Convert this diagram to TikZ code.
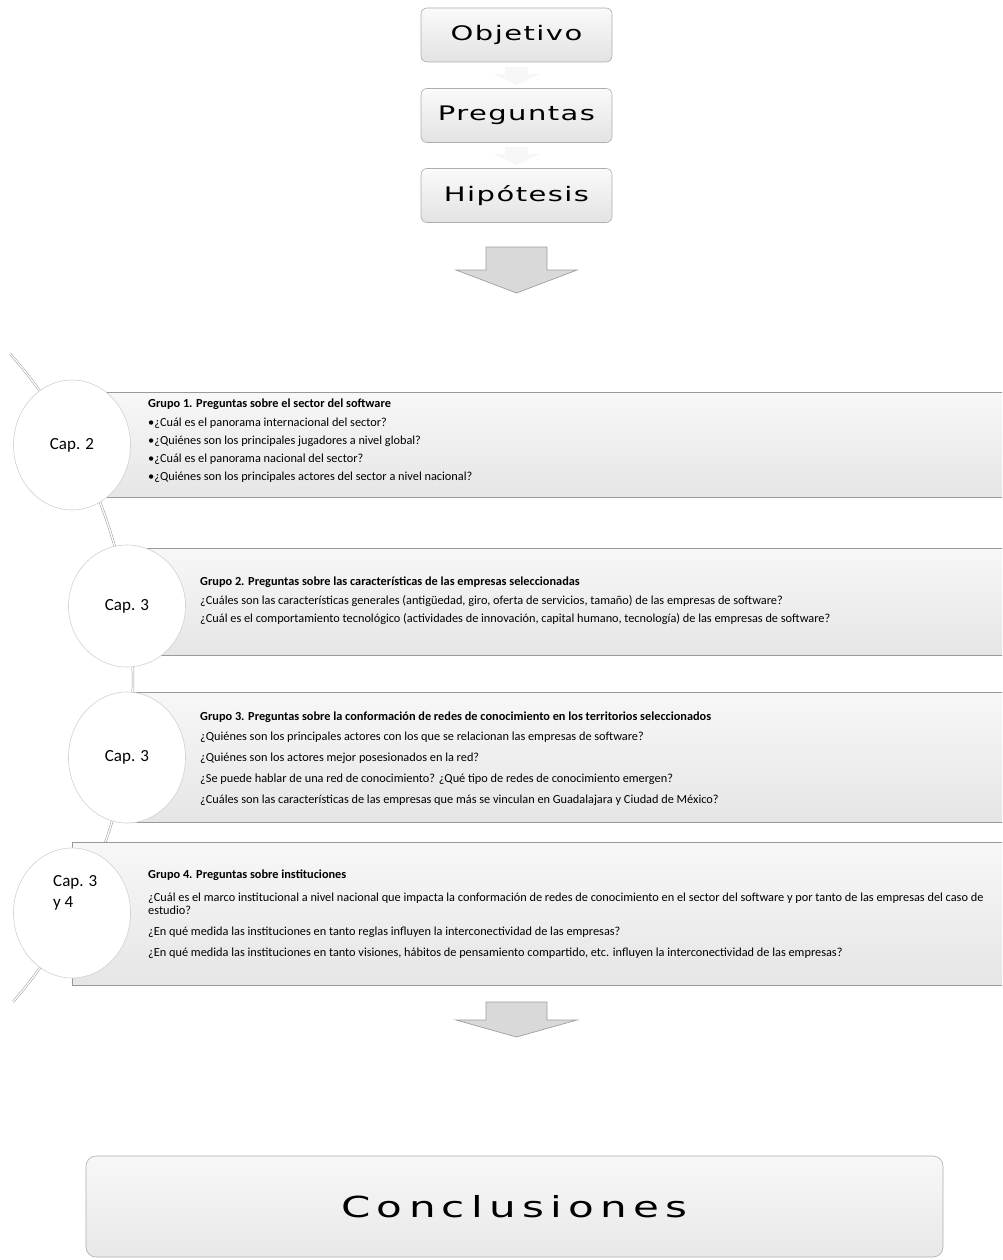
\documentclass[tikz,border=0pt]{standalone}
\usepackage{fontspec}
\setmainfont{Carlito}
\newfontfamily\headfont{DejaVu Sans}
\usetikzlibrary{shapes.geometric}
% wide heading text: horizontally widened glyphs with a little tracking
\newcommand{\widehead}[3]{\scalebox{1.45}[1]{\headfont\addfontfeature{LetterSpace=#2}\fontsize{#1}{#1}\selectfont #3}}
\begin{document}
\begin{tikzpicture}[x=1pt,y=-1pt,
  topbox/.style={draw=black!32, line width=0.6pt, rounded corners=6pt,
    top color=black!2, bottom color=black!11, minimum width=191pt, minimum height=54pt},
  faintarrow/.style={fill=black!3, draw=none},
  bigarrow/.style={draw=black!38, line width=0.7pt, fill=black!15},
  rowbox/.style={draw=black!40, line width=0.8pt, top color=black!3, bottom color=black!10,
    anchor=north west, inner sep=0pt},
  capcircle/.style={ellipse, draw=black!18, line width=0.6pt, fill=white, inner sep=0pt,
    font=\fontsize{17}{21}\selectfont},
  arcline/.style={draw=black!40, line width=0.5pt, double=white, double distance=1.3pt},
  txt/.style={anchor=base west, inner sep=0pt, font=\fontsize{12.3}{14}\selectfont}]
\useasboundingbox (0,0) rectangle (1002,1260);

% --- top sequence ---
\node[topbox] (obj) at (516.5,35) {\widehead{20}{5}{Objetivo}};
\node[topbox] (preg) at (516.5,115.5) {\widehead{20}{5}{Preguntas}};
\node[topbox] (hip) at (516.5,195.5) {\widehead{20}{5}{Hipótesis}};

\fill[faintarrow] (505,67) -- (528,67) -- (528,74) -- (540,74) -- (516.5,85) -- (493,74) -- (505,74) -- cycle;
\fill[faintarrow] (505,147) -- (528,147) -- (528,154) -- (540,154) -- (516.5,165) -- (493,154) -- (505,154) -- cycle;

\draw[bigarrow] (486,247) -- (547,247) -- (547,270) -- (577,270) -- (516.5,293) -- (456,270) -- (486,270) -- cycle;

% --- arc through the chapter circles ---
\draw[arcline] plot[domain=-41.3:40.8, samples=90, smooth]
  ({-360.4+493.4*cos(\x)},{679.5+493.4*sin(\x)});

% --- question groups ---
\begin{scope}
\clip (0,0) rectangle (1002,1260);
\node[rowbox, minimum width=940pt, minimum height=105pt] (g1) at (72,392) {};
\node[rowbox, minimum width=885pt, minimum height=107pt] (g2) at (127,548) {};
\node[rowbox, minimum width=885pt, minimum height=130pt] (g3) at (127,692) {};
\node[rowbox, minimum width=940pt, minimum height=143pt] (g4) at (72,842) {};
\end{scope}

\node[capcircle, minimum width=117pt, minimum height=130pt] (c1) at (72,445) {Cap. 2};
\node[capcircle, minimum width=117pt, minimum height=122pt] (c2) at (127,606) {Cap. 3};
\node[capcircle, minimum width=117pt, minimum height=131pt] (c3) at (127,757.5) {Cap. 3};
\node[capcircle, minimum width=117pt, minimum height=130pt] (c4) at (72,913) {};
\node[anchor=base west, inner sep=0pt, font=\fontsize{17}{21}\selectfont] (c4a) at (53,886) {Cap. 3};
\node[anchor=base west, inner sep=0pt, font=\fontsize{17}{21}\selectfont] (c4b) at (53,907) {y 4};

% group 1
\node[txt] (t10) at (148,407) {\textbf{Grupo 1. Preguntas sobre el sector del software}};
\node[txt] (t11) at (148,426) {•¿Cuál es el panorama internacional del sector?};
\node[txt] (t12) at (148,444) {•¿Quiénes son los principales jugadores a nivel global?};
\node[txt] (t13) at (148,462) {•¿Cuál es el panorama nacional del sector?};
\node[txt] (t14) at (148,480) {•¿Quiénes son los principales actores del sector a nivel nacional?};

% group 2
\node[txt] (t20) at (200,585) {\textbf{Grupo 2. Preguntas sobre las características de las empresas seleccionadas}};
\node[txt] (t21) at (200,604) {¿Cuáles son las características generales (antigüedad, giro, oferta de servicios, tamaño) de las empresas de software?};
\node[txt] (t22) at (200,622) {¿Cuál es el comportamiento tecnológico (actividades de innovación, capital humano, tecnología) de las empresas de software?};

% group 3
\node[txt] (t30) at (200,720) {\textbf{Grupo 3. Preguntas sobre la conformación de redes de conocimiento en los territorios seleccionados}};
\node[txt] (t31) at (200,740) {¿Quiénes son los principales actores con los que se relacionan las empresas de software?};
\node[txt] (t32) at (200,761) {¿Quiénes son los actores mejor posesionados en la red?};
\node[txt] (t33) at (200,782) {¿Se puede hablar de una red de conocimiento? ¿Qué tipo de redes de conocimiento emergen?};
\node[txt] (t34) at (200,803) {¿Cuáles son las características de las empresas que más se vinculan en Guadalajara y Ciudad de México?};

% group 4
\node[txt] (t40) at (148,878) {\textbf{Grupo 4. Preguntas sobre instituciones}};
\node[txt] (t41) at (148,901) {¿Cuál es el marco institucional a nivel nacional que impacta la conformación de redes de conocimiento en el sector del software y por tanto de las empresas del caso de};
\node[txt] (t41b) at (148,914) {estudio?};
\node[txt] (t42) at (148,935) {¿En qué medida las instituciones en tanto reglas influyen la interconectividad de las empresas?};
\node[txt] (t43) at (148,956) {¿En qué medida las instituciones en tanto visiones, hábitos de pensamiento compartido, etc. influyen la interconectividad de las empresas?};

\draw[bigarrow] (486,1002) -- (547,1002) -- (547,1020) -- (577,1020) -- (516.5,1037) -- (456,1020) -- (486,1020) -- cycle;

% --- conclusion ---
\node[draw=black!32, line width=0.6pt, rounded corners=10pt, top color=black!3, bottom color=black!9,
  minimum width=857pt, minimum height=101pt] (concl) at (514.5,1206.5) {\widehead{29}{15}{Conclusiones}};
\end{tikzpicture}
\end{document}
